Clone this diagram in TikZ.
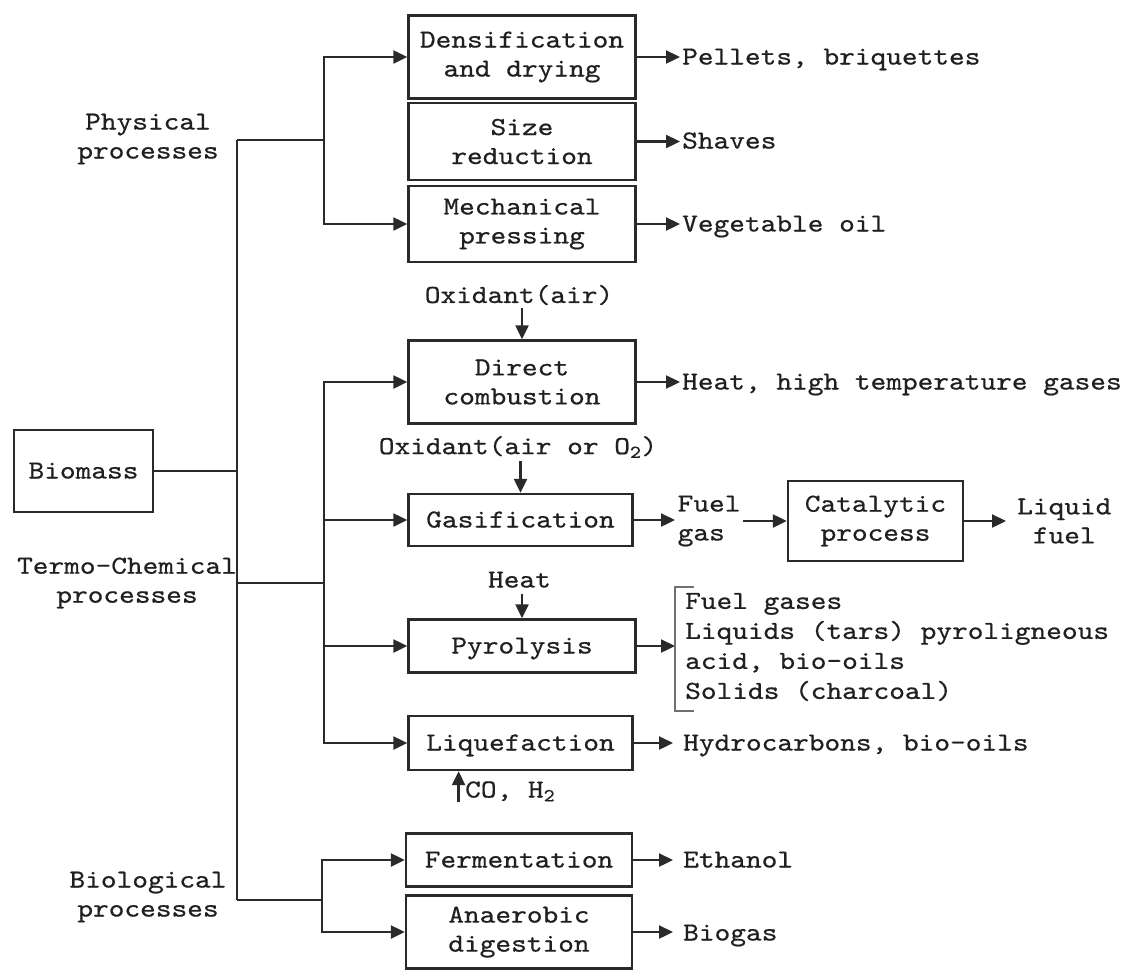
\documentclass[tikz,border=0pt]{standalone}
\usepackage{fontspec}
\newfontfamily\monofam[Extension=.otf, FakeStretch=1.15, FakeBold=0.6]{lmmono10-regular}
\newcommand\txtfont{\monofam\fontsize{26}{29}\selectfont}
\newcommand\prodfont{\monofam\fontsize{26}{30}\selectfont}
\usetikzlibrary{arrows.meta}
\definecolor{ink}{HTML}{202020}
\definecolor{linec}{HTML}{2A2A2A}
\definecolor{brkc}{HTML}{707070}
\begin{document}
\begin{tikzpicture}[x=1pt,y=-1pt,
  procbox/.style={draw=linec, line width=2.4pt, minimum width=227pt, inner sep=0pt,
    align=center, font=\txtfont, text=ink},
  oneline/.style={text height=18pt, text depth=3pt},
  catlab/.style={align=center, font=\txtfont, text=ink, inner sep=0pt},
  outlab/.style={anchor=west, inner xsep=2pt, inner ysep=0pt, font=\txtfont, text=ink},
  inlab/.style={font=\txtfont, text=ink, inner sep=3pt},
  conn/.style={draw=linec, line width=2.3pt},
  arr/.style={conn, -{Triangle[length=14pt,width=13pt]}},
  bracketline/.style={draw=brkc, line width=2.4pt}
]
\fill[white] (0,0) rectangle (1126,970);
\useasboundingbox (0,0) rectangle (1126,970);

% boxes
\node[procbox, minimum height=83pt] (dens) at (522,57) {Densification\\and drying};
\node[procbox, minimum height=77pt] (size) at (522,141.5) {Size\\reduction};
\node[procbox, minimum height=76pt] (mech) at (522,224) {Mechanical\\pressing};
\node[procbox, minimum height=83pt] (comb) at (522,382) {Direct\\combustion};
\node[procbox, oneline, minimum width=224pt, minimum height=52pt] (gas) at (520.5,520) {Gasification};
\node[procbox, minimum width=175pt, minimum height=80pt] (cat) at (875.5,521) {Catalytic\\process};
\node[procbox, oneline, minimum height=53pt] (pyro) at (522,646) {Pyrolysis};
\node[procbox, oneline, minimum width=224pt, minimum height=54pt] (liq) at (520.5,743) {Liquefaction};
\node[procbox, oneline, minimum width=226pt, minimum height=53pt] (ferm) at (519,860) {Fermentation};
\node[procbox, minimum width=226pt, minimum height=73pt] (anae) at (519,932) {Anaerobic\\digestion};
\node[procbox, oneline, minimum width=139pt, minimum height=82pt] (bio) at (83.5,471) {Biomass};

% category labels
\node[catlab] (phys) at (148,139) {Physical\\processes};
\node[catlab] (thermo) at (127,583) {Termo-Chemical\\processes};
\node[catlab] (biol) at (148,897) {Biological\\processes};

% outputs
\node[outlab, oneline] (pel) at (680,57) {Pellets, briquettes};
\node[outlab, oneline] (shav) at (680,141) {Shaves};
\node[outlab, oneline] (veg) at (680,224) {Vegetable oil};
\node[outlab, oneline] (heatg) at (680,382) {Heat, high temperature gases};
\node[outlab, align=left, inner xsep=2.5pt] (fuelg) at (675,521) {Fuel\\gas};
\node[outlab, align=center, inner xsep=11pt] (liqf) at (1006,521) {Liquid\\fuel};
\node[outlab, align=left, font=\prodfont, inner xsep=10pt] (prod) at (675,647) {Fuel gases\\Liquids (tars) pyroligneous\\acid, bio-oils\\Solids (charcoal)};
\node[outlab, oneline, inner xsep=10pt] (hydro) at (673,743) {Hydrocarbons, bio-oils};
\node[outlab, oneline, inner xsep=10pt] (eth) at (673,860) {Ethanol};
\node[outlab, oneline, inner xsep=10pt] (biog) at (673,933) {Biogas};

% inputs
\node[inlab] (ox1) at (519,295) {Oxidant(air)};
\node[inlab] (ox2) at (518,447) {Oxidant(air or O\textsubscript{2})};
\node[inlab, oneline] (heat) at (519.5,580) {Heat};
\node[inlab, oneline, anchor=west, inner sep=0pt] (co) at (465,790) {CO, H\textsubscript{2}};
\coordinate (coin) at (458.6,802);

% tree
\coordinate (tP) at (237,140);
\coordinate (tT) at (237,583);
\coordinate (tB) at (237,900);
\coordinate (sP) at (324,140);
\coordinate (sT) at (324,583);
\coordinate (sB) at (322,900);

\draw[conn] (tP) -- (tB);
\draw[conn] (bio.east) -- (bio.east -| tP);
\draw[conn] (tP) -- (sP);
\draw[conn] (tT) -- (sT);
\draw[conn] (tB) -- (sB);

\draw[arr] (sP) |- (dens.west);
\draw[arr] (sP) |- (mech.west);
\draw[arr] (sT) |- (comb.west);
\draw[arr] (sT) |- (gas.west);
\draw[arr] (sT) |- (pyro.west);
\draw[arr] (sT) |- (liq.west);
\draw[arr] (sB) |- (ferm.west);
\draw[arr] (sB) |- (anae.west);

% output arrows
\draw[arr] (dens.east) -- (dens.east -| pel.west);
\draw[arr] (size.east) -- (size.east -| shav.west);
\draw[arr] (mech.east) -- (mech.east -| veg.west);
\draw[arr] (comb.east) -- (comb.east -| heatg.west);
\draw[arr] (gas.east) -- (gas.east -| fuelg.west);
\draw[arr] (fuelg.east |- cat.west) -- (cat.west);
\draw[arr] (cat.east) -- (cat.east -| liqf.west);
\draw[arr] (pyro.east) -- (pyro.east -| prod.west);
\draw[arr] (liq.east) -- (liq.east -| hydro.west);
\draw[arr] (ferm.east) -- (ferm.east -| eth.west);
\draw[arr] (anae.east) -- (anae.east -| biog.west);

% input arrows
\draw[arr] (comb.north |- ox1.south) -- (comb.north);
\draw[arr] (gas.north |- ox2.south) -- (gas.north);
\draw[arr] (pyro.north |- heat.south) -- (pyro.north);
\draw[arr] (coin) -- (coin |- liq.south);

% bracket
\draw[bracketline] (694,587) -- (675,587) -- (675,711) -- (694,711);
\end{tikzpicture}
\end{document}
